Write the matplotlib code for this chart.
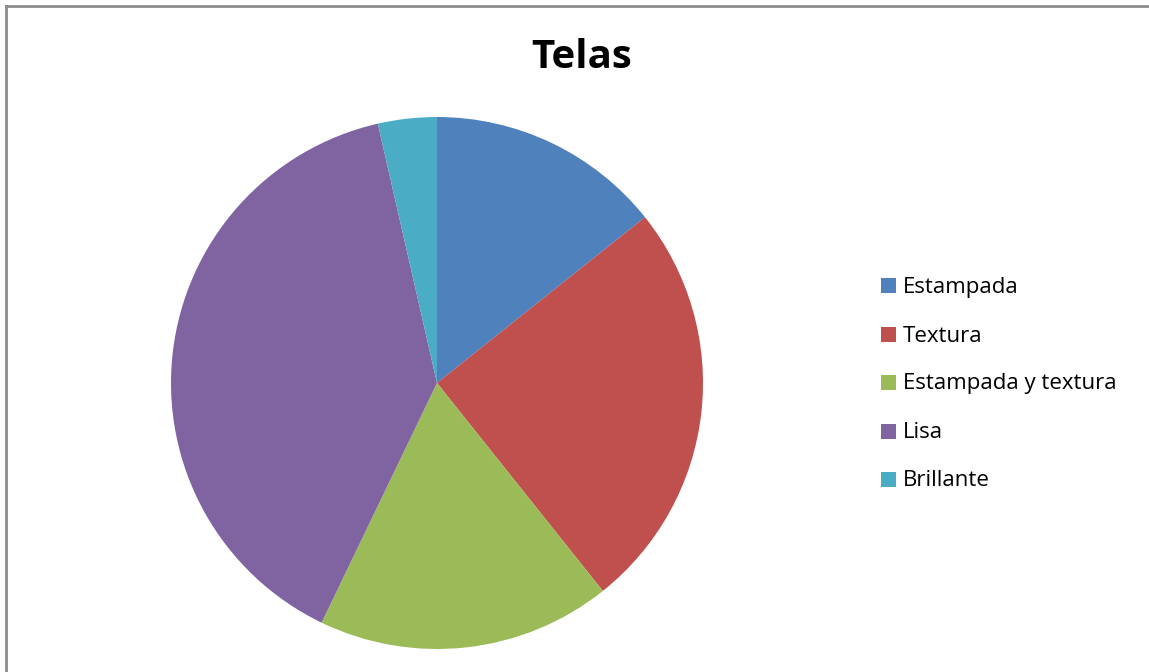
import matplotlib
matplotlib.use("Agg")
import matplotlib.pyplot as plt
from matplotlib.patches import Rectangle
from matplotlib.lines import Line2D

categories = ["Estampada", "Textura", "Estampada y textura", "Lisa", "Brillante"]
counts = [4, 7, 5, 11, 1]
colors = ["#4F81BD", "#C0504D", "#9BBB59", "#8064A2", "#4BACC6"]

W, H = 1149, 672
plt.rcParams["font.family"] = ["Open Sans", "DejaVu Sans"]

fig = plt.figure(figsize=(W / 100, H / 100), dpi=100)
fig.patch.set_facecolor("white")

# pie area: centre (437, 383) px, radius 266 px
cx, cy, r = 437, 383, 266
ax = fig.add_axes([(cx - r) / W, (H - cy - r) / H, 2 * r / W, 2 * r / H])
ax.pie(counts, colors=colors, startangle=90, counterclock=False,
       radius=1.0, wedgeprops=dict(linewidth=0))
ax.set_xlim(-1, 1)
ax.set_ylim(-1, 1)
ax.set_aspect("auto")
ax.axis("off")

fig.text(582 / W, 1 - 57 / H, "Telas", ha="center", va="center",
         fontsize=29, fontweight="bold", color="black")

# legend
row_y = [286, 334, 382, 431, 479]
for label, color, y in zip(categories, colors, row_y):
    fig.add_artist(Rectangle((881 / W, 1 - (y + 7.5) / H), 15 / W, 15 / H,
                             transform=fig.transFigure, facecolor=color,
                             edgecolor="none"))
    fig.text(903 / W, 1 - (y + 2) / H, label, ha="left", va="center",
             fontsize=16, color="black")

# chart frame (left and top edges)
frame = dict(color="#8c8c8c", linewidth=2, transform=fig.transFigure)
fig.add_artist(Line2D([6 / W, 6 / W], [0, 1 - 5.5 / H], **frame))
fig.add_artist(Line2D([6 / W, 1], [1 - 5.5 / H, 1 - 5.5 / H], **frame))

fig.savefig("out.png", dpi=100)
